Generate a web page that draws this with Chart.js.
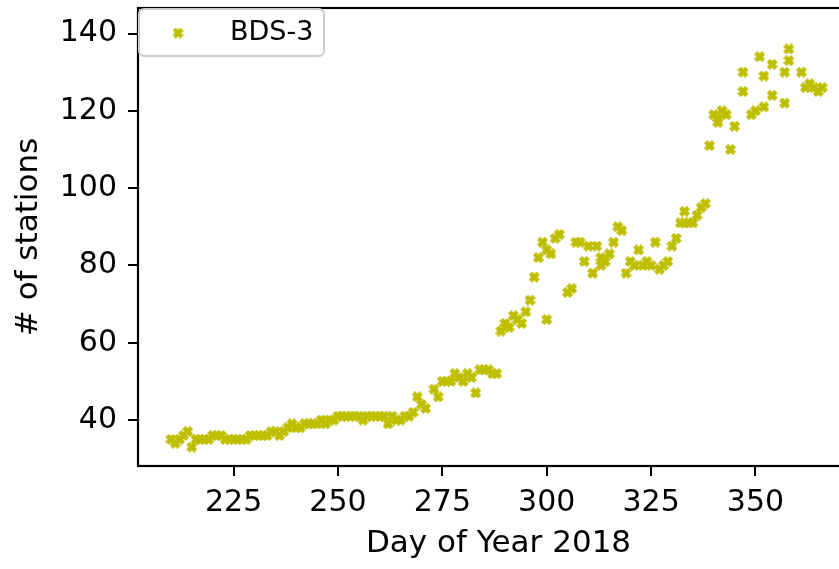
<!DOCTYPE html>
<html>
<head>
<meta charset="utf-8">
<script src="https://cdn.jsdelivr.net/npm/chart.js@4.4.1/dist/chart.umd.min.js"></script>
<style>
  html, body { margin: 0; padding: 0; background: #fff; overflow: hidden; }
  #wrap { width: 870px; height: 569px; }
</style>
</head>
<body>
<div id="wrap"><canvas id="chart"></canvas></div>
<script>
// values (day of year, number of stations)
const days = [
  210, 211, 212, 213, 214, 215, 216, 217, 218, 219,
  220, 221, 222, 223, 224, 225, 226, 227, 228, 229,
  230, 231, 232, 233, 234, 235, 236, 237, 238, 239,
  240, 241, 242, 243, 244, 245, 246, 247, 248, 249,
  250, 251, 252, 253, 254, 255, 256, 257, 258, 259,
  260, 261, 262, 263, 264, 265, 266, 267, 268, 269,
  270, 271, 273, 274, 275, 276, 277, 278, 279, 280,
  281, 282, 283, 284, 285, 286, 287, 288, 289, 290,
  290, 291, 292, 293, 294, 295, 296, 297, 298, 299,
  300, 300, 301, 302, 303, 305, 306, 307, 308, 309,
  310, 311, 312, 313, 313, 314, 315, 316, 317, 318,
  319, 320, 321, 322, 323, 324, 325, 326, 327, 328,
  329, 330, 331, 332, 333, 333, 334, 335, 336, 337,
  338, 339, 340, 341, 341, 342, 343, 344, 345, 347,
  347, 349, 350, 351, 352, 352, 354, 354, 357, 357,
  358, 358, 361, 362, 363, 364, 365, 366
];
const stations = [
  35, 34, 35, 36, 37, 33, 35, 35, 35, 35,
  36, 36, 36, 35, 35, 35, 35, 35, 35, 36,
  36, 36, 36, 36, 37, 37, 36, 37, 38, 39,
  38, 38, 39, 39, 39, 39, 40, 39, 40, 40,
  41, 41, 41, 41, 41, 41, 40, 41, 41, 41,
  41, 41, 39, 41, 40, 40, 41, 41, 42, 46,
  44, 43, 48, 46, 50, 50, 50, 52, 51, 50,
  52, 51, 47, 53, 53, 53, 52, 52, 63, 64,
  65, 64, 67, 66, 65, 68, 71, 77, 82, 86,
  66, 84, 83, 87, 88, 73, 74, 86, 86, 81,
  85, 78, 85, 82, 80, 81, 83, 86, 90, 89,
  78, 81, 80, 84, 80, 81, 80, 86, 79, 80,
  81, 85, 87, 91, 91, 94, 91, 91, 93, 95,
  96, 111, 119, 118, 117, 120, 119, 110, 116, 125,
  130, 119, 120, 134, 121, 129, 124, 132, 122, 130,
  133, 136, 130, 126, 127, 126, 125, 126
];
const seriesLabel = "BDS-3";
const xTicks = [225, 250, 275, 300, 325, 350];
const yTicks = [40, 60, 80, 100, 120, 140];
const xRange = [202.1, 374.8];
const yRange = [28.1, 146.6];

const olive = "#bfbf00";
const font = "DejaVu Sans";

// filled "X" marker, like matplotlib's marker="X"
function makeMarker(size, color) {
  const c = document.createElement("canvas");
  c.width = size;
  c.height = size;
  const g = c.getContext("2d");
  const plus = [[-1,-3],[1,-3],[1,-1],[3,-1],[3,1],[1,1],[1,3],[-1,3],[-1,1],[-3,1],[-3,-1],[-1,-1]];
  const unit = (size / 2 - 1) / 2.83;
  g.translate(size / 2, size / 2);
  g.beginPath();
  plus.forEach(([x, y], i) => {
    const px = (x - y) / Math.SQRT2 * unit;
    const py = (x + y) / Math.SQRT2 * unit;
    if (i === 0) g.moveTo(px, py); else g.lineTo(px, py);
  });
  g.closePath();
  g.fillStyle = color;
  g.strokeStyle = color;
  g.lineWidth = 1.5;
  g.fill();
  g.stroke();
  return c;
}
const marker = makeMarker(11, olive);

const frame = {
  id: "frame",
  afterDraw(chart) {
    const { ctx, chartArea: a } = chart;
    ctx.save();
    ctx.strokeStyle = "#000";
    ctx.lineWidth = 2.2;
    ctx.strokeRect(a.left, a.top, a.right - a.left, a.bottom - a.top);

    // legend box in the upper left corner
    const x = a.left + 1, y = a.top + 1, w = 185, h = 47, r = 5;
    ctx.beginPath();
    ctx.roundRect(x, y, w, h, r);
    ctx.fillStyle = "rgba(255,255,255,0.8)";
    ctx.fill();
    ctx.strokeStyle = "#cccccc";
    ctx.lineWidth = 2;
    ctx.stroke();
    ctx.drawImage(marker, x + 39 - marker.width / 2, y + 24 - marker.height / 2);
    ctx.fillStyle = "#000";
    ctx.font = "27px '" + font + "'";
    ctx.textBaseline = "middle";
    ctx.fillText(chart.data.datasets[0].label, x + 91, y + 24);
    ctx.restore();
  }
};

new Chart(document.getElementById("chart"), {
  type: "scatter",
  data: {
    datasets: [{
      label: seriesLabel,
      data: days.map((d, i) => ({ x: d, y: stations[i] })),
      pointStyle: marker,
      pointRadius: 5,
      backgroundColor: olive,
      borderColor: olive
    }]
  },
  options: {
    responsive: true,
    maintainAspectRatio: false,
    animation: false,
    layout: { padding: { top: 8, right: 11, left: 0, bottom: 0 } },
    plugins: { legend: { display: false }, tooltip: { enabled: false } },
    scales: {
      x: {
        type: "linear",
        min: xRange[0],
        max: xRange[1],
        afterBuildTicks: s => { s.ticks = xTicks.map(v => ({ value: v })); },
        afterFit: s => { s.height = 103; s.paddingLeft = 0; s.paddingRight = 0; },
        grid: { drawOnChartArea: false, drawTicks: true, tickLength: 10, color: "#000", lineWidth: 2 },
        border: { display: false },
        ticks: { color: "#000", padding: 9, maxRotation: 0, font: { family: font, size: 30 } },
        title: { display: true, text: "Day of Year 2018", color: "#000", padding: { top: 0, bottom: 6 }, font: { family: font, size: 31 } }
      },
      y: {
        type: "linear",
        min: yRange[0],
        max: yRange[1],
        afterBuildTicks: s => { s.ticks = yTicks.map(v => ({ value: v })); },
        afterFit: s => { s.width = 138; s.paddingTop = 0; s.paddingBottom = 0; },
        grid: { drawOnChartArea: false, drawTicks: true, tickLength: 10, color: "#000", lineWidth: 2 },
        border: { display: false },
        ticks: { color: "#000", padding: 11, font: { family: font, size: 30 } },
        title: { display: true, text: "# of stations", color: "#000", padding: { top: 10, bottom: 0 }, font: { family: font, size: 31 } }
      }
    }
  },
  plugins: [frame]
});
</script>
</body>
</html>
